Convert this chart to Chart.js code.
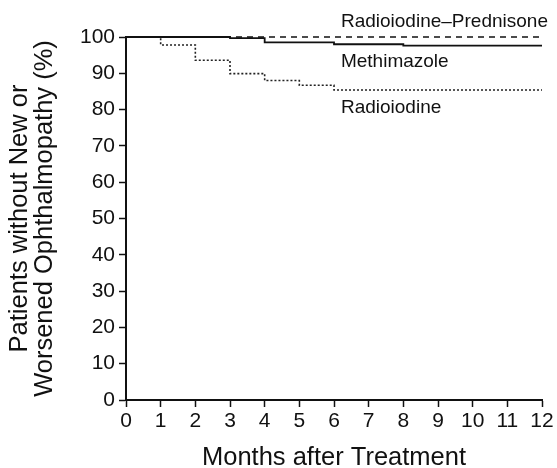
<!DOCTYPE html>
<html>
<head>
<meta charset="utf-8">
<script src="https://cdn.jsdelivr.net/npm/chart.js@4.4.1/dist/chart.umd.min.js"></script>
<style>
  html, body { margin: 0; padding: 0; background: #fff; }
  #wrap { width: 557px; height: 468px; }
</style>
</head>
<body>
<div id="wrap"><canvas id="km"></canvas></div>
<script>
// Kaplan-Meier style step data (month, % without new/worsened ophthalmopathy)
const prednisoneMonths = [0, 12]
const prednisoneValues = [100, 100]

const methimazoleMonths = [0, 3, 4, 6, 8, 12]
const methimazoleValues = [100, 99.7, 98.5, 98.0, 97.6, 97.6]

const radioiodineMonths = [0, 1, 2, 3, 4, 5, 6, 12]
const radioiodineValues = [100, 97.8, 93.6, 89.9, 88.0, 86.7, 85.4, 85.4]

const xTicks = [0, 1, 2, 3, 4, 5, 6, 7, 8, 9, 10, 11, 12]
const yTicks = [0, 10, 20, 30, 40, 50, 60, 70, 80, 90, 100]

// curve labels: [text, month, value]
const curveLabels = [
  ['Radioiodine\u2013Prednisone', 6.2, 104.2],
  ['Methimazole', 6.2, 93.3],
  ['Radioiodine', 6.2, 80.5]
]

const toPoints = (xs, ys) => xs.map((x, i) => ({ x: x, y: ys[i] }))

const FONT = "'Liberation Sans', Arial, Helvetica, sans-serif"

const labelPlugin = {
  id: 'curveLabels',
  afterDraw(chart) {
    const { ctx, scales: { x, y } } = chart
    ctx.save()
    ctx.fillStyle = '#111'
    ctx.font = '19px ' + FONT
    ctx.textAlign = 'left'
    ctx.textBaseline = 'middle'
    curveLabels.forEach(([t, mx, vy]) => {
      ctx.fillText(t, x.getPixelForValue(mx), y.getPixelForValue(vy))
    })
    ctx.restore()
  }
}

const ctx = document.getElementById('km')
new Chart(ctx, {
  type: 'line',
  data: {
    datasets: [{
      label: 'Methimazole',
      data: toPoints(methimazoleMonths, methimazoleValues),
      borderColor: '#111',
      borderWidth: 1.8,
      stepped: 'before',
      pointRadius: 0,
      clip: 6
    }, {
      label: 'Radioiodine',
      data: toPoints(radioiodineMonths, radioiodineValues),
      borderColor: '#222',
      borderWidth: 1.6,
      borderDash: [2, 2],
      stepped: 'before',
      pointRadius: 0,
      clip: 6
    }, {
      label: 'Radioiodine\u2013Prednisone',
      data: toPoints(prednisoneMonths, prednisoneValues),
      borderColor: '#111',
      borderWidth: 1.6,
      borderDash: [6, 5],
      stepped: 'before',
      pointRadius: 0,
      clip: 6
    }]
  },
  options: {
    responsive: true,
    maintainAspectRatio: false,
    animation: false,
    layout: {
      padding: { left: 0, right: 15, top: 37, bottom: 0 }
    },
    scales: {
      x: {
        type: 'linear',
        min: 0,
        max: 12,
        afterFit(scale) { scale.height = 68 },
        afterBuildTicks(scale) { scale.ticks = xTicks.map(v => ({ value: v })) },
        ticks: {
          color: '#111',
          padding: 2,
          font: { family: FONT, size: 21 }
        },
        grid: {
          drawOnChartArea: false,
          tickLength: 7,
          tickWidth: 1.5,
          tickColor: '#111'
        },
        border: { color: '#111', width: 2 },
        title: {
          display: true,
          text: 'Months after Treatment',
          color: '#111',
          font: { family: FONT, size: 25.5, lineHeight: 1 },
          padding: { top: 0, bottom: -3 }
        }
      },
      y: {
        type: 'linear',
        min: 0,
        max: 100,
        afterFit(scale) { scale.width = 126 },
        afterBuildTicks(scale) { scale.ticks = yTicks.map(v => ({ value: v })) },
        ticks: {
          color: '#111',
          padding: 4,
          font: { family: FONT, size: 21 }
        },
        grid: {
          drawOnChartArea: false,
          tickLength: 7,
          tickWidth: 1.5,
          tickColor: '#111'
        },
        border: { color: '#111', width: 2 },
        title: {
          display: true,
          text: ['Patients without New or', 'Worsened Ophthalmopathy (%)'],
          color: '#111',
          font: { family: FONT, size: 25.5, lineHeight: 1 },
          padding: { top: 7, bottom: 0 }
        }
      }
    },
    plugins: {
      legend: { display: false },
      tooltip: { enabled: false }
    }
  },
  plugins: [labelPlugin]
})
</script>
</body>
</html>
